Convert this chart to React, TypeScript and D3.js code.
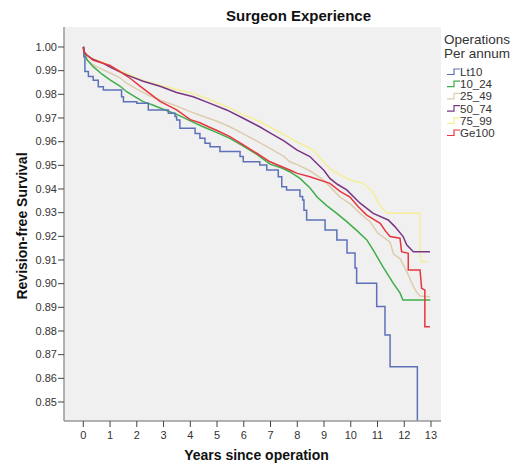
import React from 'react';
import * as d3 from 'd3';

// Axis tick values
const YEAR_TICKS = [0, 1, 2, 3, 4, 5, 6, 7, 8, 9, 10, 11, 12, 13];
const SURVIVAL_TICKS = [0.85, 0.86, 0.87, 0.88, 0.89, 0.9, 0.91, 0.92, 0.93, 0.94, 0.95, 0.96, 0.97, 0.98, 0.99, 1.0];

// Surgeon volume groups (operations per annum)
const GROUPS = ['Lt10', '10_24', '25_49', '50_74', '75_99', 'Ge100'];
const GROUP_COLORS = ['#5d71b8', '#3fae4a', '#dccdae', '#7a3585', '#f4ef95', '#e5363f'];

// Kaplan-Meier estimates: [years since operation, revision-free survival]
// Lt10 is a coarse step function (drawn step-after); the others are dense enough to draw point to point.
const lt10: [number, number][] = [
  [0, 1.0], [0.02, 0.9959], [0.06, 0.9896], [0.19, 0.9875], [0.37, 0.986], [0.56, 0.9832], [0.75, 0.9818],
  [1.43, 0.979], [1.5, 0.9769], [2.0, 0.9762], [2.43, 0.9734], [3.18, 0.972], [3.43, 0.9706], [3.49, 0.9692],
  [3.61, 0.9657], [4.18, 0.9635], [4.36, 0.9614], [4.55, 0.9593], [4.74, 0.9579], [5.11, 0.9558], [5.86, 0.9537],
  [5.98, 0.9515], [6.6, 0.9501], [6.86, 0.948], [7.29, 0.9452], [7.42, 0.941], [7.6, 0.9396], [8.1, 0.9368],
  [8.2, 0.9354], [8.25, 0.931], [8.35, 0.9269], [9.04, 0.9227], [9.48, 0.9185], [9.86, 0.913], [10.16, 0.9066],
  [10.22, 0.9002], [10.97, 0.8903], [11.28, 0.8783], [11.47, 0.8649], [12.49, 0.81],
];
const g10_24: [number, number][] = [
  [0, 1.0], [0.03, 0.9975], [0.15, 0.9945], [0.37, 0.9917], [0.7, 0.9885], [1.0, 0.9861], [1.37, 0.9835],
  [1.62, 0.9811], [2.0, 0.9785], [2.24, 0.9769], [2.6, 0.9755], [2.87, 0.9742], [3.5, 0.9715], [4.0, 0.9688],
  [4.5, 0.9662], [5.0, 0.9638], [5.48, 0.9614], [6.0, 0.958], [6.5, 0.9545], [6.98, 0.9505], [7.4, 0.949],
  [7.72, 0.9473], [8.1, 0.9445], [8.47, 0.9405], [8.75, 0.9365], [9.1, 0.933], [9.5, 0.9295], [9.85, 0.9262],
  [10.22, 0.9225], [10.6, 0.9185], [10.84, 0.9142], [11.2, 0.9072], [11.58, 0.9003], [11.84, 0.8961],
  [11.95, 0.8931], [12.97, 0.8931],
];
const g25_49: [number, number][] = [
  [0, 1.0], [0.03, 0.997], [0.13, 0.9945], [0.37, 0.9925], [0.62, 0.991], [1.0, 0.989], [1.37, 0.987],
  [1.62, 0.9847], [2.0, 0.9822], [2.5, 0.9793], [2.87, 0.9776], [3.5, 0.975], [4.0, 0.9727], [4.5, 0.9706],
  [5.0, 0.9686], [5.48, 0.9663], [6.0, 0.9632], [6.5, 0.9602], [6.98, 0.9572], [7.5, 0.9538], [7.72, 0.9515],
  [8.0, 0.9503], [8.47, 0.9477], [9.0, 0.9437], [9.22, 0.941], [9.6, 0.9365], [9.97, 0.9338], [10.35, 0.9297],
  [10.72, 0.9262], [11.0, 0.9215], [11.47, 0.9175], [11.6, 0.9125], [11.85, 0.9105], [12.09, 0.9052],
  [12.34, 0.8988], [12.46, 0.8965], [12.59, 0.8948], [12.96, 0.8945],
];
const g50_74: [number, number][] = [
  [0, 1.0], [0.03, 0.998], [0.13, 0.9966], [0.36, 0.9948], [0.75, 0.9931], [1.0, 0.9915], [1.37, 0.9895],
  [1.62, 0.9882], [2.24, 0.9855], [2.87, 0.9834], [3.49, 0.9808], [4.11, 0.979], [4.74, 0.9762], [5.36, 0.9734],
  [5.98, 0.9699], [6.61, 0.9662], [6.98, 0.9637], [7.5, 0.9603], [7.98, 0.9565], [8.47, 0.9537], [9.0, 0.9478],
  [9.22, 0.9445], [9.5, 0.942], [9.85, 0.9396], [10.35, 0.934], [10.84, 0.9297], [11.4, 0.9269], [11.65, 0.9241],
  [11.96, 0.9199], [12.09, 0.9164], [12.34, 0.9135], [12.96, 0.9135],
];
const g75_99: [number, number][] = [
  [0, 1.0], [0.03, 0.998], [0.13, 0.9966], [0.36, 0.995], [0.75, 0.9935], [1.0, 0.992], [1.37, 0.99],
  [1.62, 0.9888], [2.24, 0.9858], [2.87, 0.9838], [3.49, 0.982], [4.11, 0.9803], [4.74, 0.9777], [5.36, 0.9748],
  [5.98, 0.9714], [6.61, 0.9685], [6.98, 0.9662], [7.5, 0.963], [8.0, 0.9598], [8.6, 0.9565], [9.22, 0.9485],
  [9.6, 0.946], [9.97, 0.9438], [10.47, 0.9424], [10.84, 0.9385], [11.03, 0.934], [11.34, 0.9297],
  [12.59, 0.9297], [12.59, 0.9114], [12.66, 0.9093], [12.84, 0.9093],
];
const ge100: [number, number][] = [
  [0, 1.0], [0.02, 0.998], [0.13, 0.9966], [0.36, 0.9945], [0.74, 0.9931], [1.0, 0.9922], [1.37, 0.9896],
  [1.75, 0.9868], [2.12, 0.9835], [2.49, 0.9803], [2.87, 0.977], [3.49, 0.9734], [4.0, 0.9693], [4.36, 0.968],
  [4.74, 0.966], [5.0, 0.9647], [5.48, 0.9621], [6.0, 0.9585], [6.5, 0.955], [6.98, 0.9515], [7.72, 0.948],
  [8.0, 0.9466], [8.47, 0.9452], [9.22, 0.9424], [9.6, 0.939], [9.97, 0.9366], [10.28, 0.9325], [10.6, 0.929],
  [11.1, 0.9255], [11.3, 0.9222], [11.47, 0.9199], [11.84, 0.9192], [11.9, 0.9135], [12.15, 0.9128],
  [12.15, 0.9058], [12.59, 0.9058], [12.65, 0.898], [12.77, 0.8973], [12.77, 0.8818], [12.96, 0.8818],
];

const SERIES = [lt10, g10_24, g25_49, g50_74, g75_99, ge100];
// paint order: light colours underneath
const DRAW_ORDER = [4, 2, 1, 0, 3, 5];

const W = 525;
const H = 472;
const PLOT = { left: 64, right: 441, top: 27, bottom: 421 };

const FONT = "'Liberation Sans', Arial, sans-serif";

export default function App() {
  const x = d3.scaleLinear().domain([-0.7216, 13.374]).range([PLOT.left, PLOT.right]);
  const y = d3.scaleLinear().domain([0.84197, 1.00845]).range([PLOT.bottom, PLOT.top]);

  const stepLine = d3.line<[number, number]>().x((d) => x(d[0])).y((d) => y(d[1])).curve(d3.curveStepAfter);
  const plainLine = d3.line<[number, number]>().x((d) => x(d[0])).y((d) => y(d[1])).curve(d3.curveLinear);

  const legendX = 447;
  const legendY0 = 72;
  const legendDy = 12.2;

  return (
    <svg width={W} height={H} style={{ position: 'absolute', left: 0, top: 0, background: '#fff' }} fontFamily={FONT}>
      <defs>
        <clipPath id="plot-clip">
          <rect x={PLOT.left} y={PLOT.top} width={PLOT.right - PLOT.left} height={PLOT.bottom - PLOT.top} />
        </clipPath>
      </defs>

      <rect x={PLOT.left} y={PLOT.top} width={PLOT.right - PLOT.left} height={PLOT.bottom - PLOT.top} fill="#f0f0f0" />

      <text x={298.5} y={21} textAnchor="middle" fontSize={15} fontWeight="bold" fill="#111">Surgeon Experience</text>

      {/* survival curves */}
      <g clipPath="url(#plot-clip)" fill="none" strokeWidth={1.5} strokeLinejoin="miter">
        {DRAW_ORDER.map((i) => (
          <path key={GROUPS[i]} d={(i === 0 ? stepLine : plainLine)(SERIES[i]) || ''} stroke={GROUP_COLORS[i]} />
        ))}
      </g>

      {/* axes */}
      <line x1={PLOT.left} x2={PLOT.left} y1={PLOT.top} y2={PLOT.bottom} stroke="#9a9a9a" strokeWidth={1.5} />
      <line x1={PLOT.left} x2={PLOT.right} y1={PLOT.bottom} y2={PLOT.bottom} stroke="#9a9a9a" strokeWidth={1.5} />

      {SURVIVAL_TICKS.map((v) => (
        <g key={v}>
          <line x1={PLOT.left - 6} x2={PLOT.left} y1={y(v)} y2={y(v)} stroke="#444" strokeWidth={1} />
          <text x={PLOT.left - 7} y={y(v) + 3.8} textAnchor="end" fontSize={11} fill="#333">{v.toFixed(2)}</text>
        </g>
      ))}

      {YEAR_TICKS.map((t) => (
        <g key={t}>
          <line x1={x(t)} x2={x(t)} y1={PLOT.bottom} y2={PLOT.bottom + 6} stroke="#444" strokeWidth={1} />
          <text x={x(t)} y={439} textAnchor="middle" fontSize={11} fill="#333">{t}</text>
        </g>
      ))}

      <text x={256.5} y={460} textAnchor="middle" fontSize={14} fontWeight="bold" fill="#111">Years since operation</text>
      <text transform="translate(27,226) rotate(-90)" textAnchor="middle" fontSize={14} fontWeight="bold" fill="#111">Revision-free Survival</text>

      {/* legend */}
      <text x={legendX - 3} y={44} fontSize={13.5} fill="#333">Operations</text>
      <text x={legendX - 3} y={58} fontSize={13.5} fill="#333">Per annum</text>
      {GROUPS.map((g, i) => {
        const cy = legendY0 + i * legendDy;
        return (
          <g key={g}>
            <path d={`M${legendX},${cy + 2.5}H${legendX + 7}V${cy - 3}H${legendX + 13}`} fill="none" stroke={GROUP_COLORS[i]} strokeWidth={1.2} />
            <text x={legendX + 13} y={cy + 4} fontSize={11.5} fill="#333">{g}</text>
          </g>
        );
      })}
    </svg>
  );
}
